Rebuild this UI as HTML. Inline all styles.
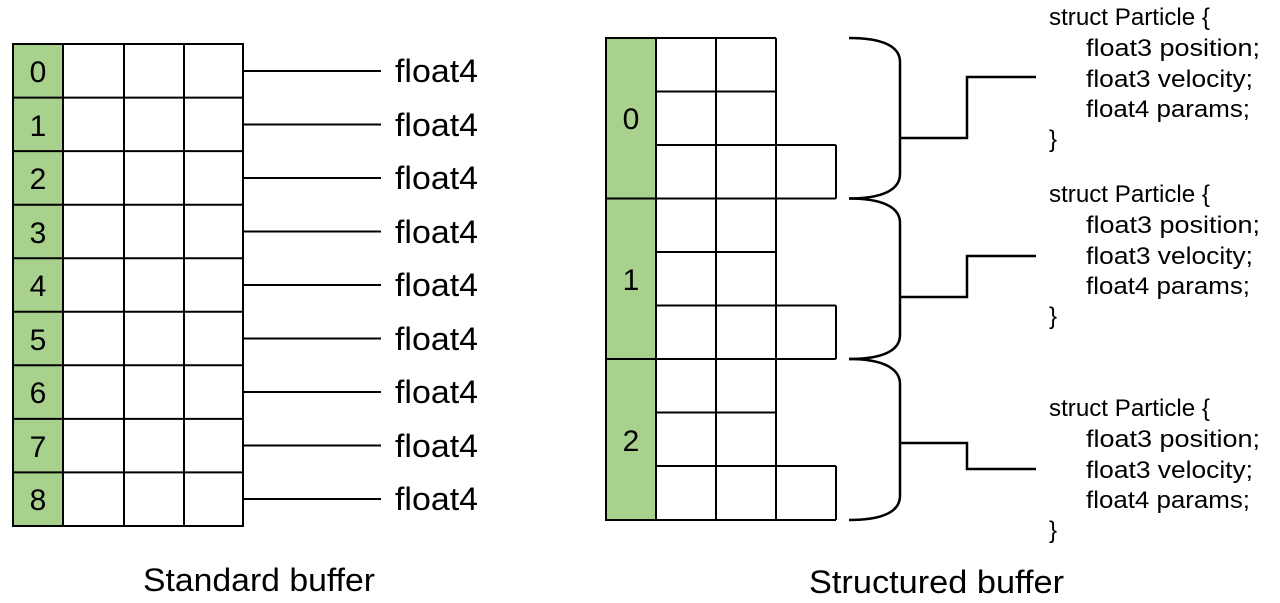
<!DOCTYPE html>
<html><head><meta charset="utf-8"><style>
html,body{margin:0;padding:0;background:#fff;width:1280px;height:603px;overflow:hidden}
svg{display:block}
text{font-family:"Liberation Sans","DejaVu Sans",sans-serif;fill:#000}
</style></head><body>
<svg width="1280" height="603" viewBox="0 0 1280 603" xmlns="http://www.w3.org/2000/svg">
<g stroke="#000" stroke-width="2" fill="none">
<rect x="13" y="44" width="50" height="482" fill="#a9d18e"/>
<rect x="13" y="44" width="230" height="482"/>
<line x1="63" y1="44" x2="63" y2="526"/>
<line x1="124" y1="44" x2="124" y2="526"/>
<line x1="184" y1="44" x2="184" y2="526"/>
<line x1="13" y1="97.6" x2="243" y2="97.6"/>
<line x1="13" y1="151.1" x2="243" y2="151.1"/>
<line x1="13" y1="204.7" x2="243" y2="204.7"/>
<line x1="13" y1="258.2" x2="243" y2="258.2"/>
<line x1="13" y1="311.8" x2="243" y2="311.8"/>
<line x1="13" y1="365.3" x2="243" y2="365.3"/>
<line x1="13" y1="418.9" x2="243" y2="418.9"/>
<line x1="13" y1="472.4" x2="243" y2="472.4"/>
<line x1="243" y1="71" x2="381" y2="71"/>
<line x1="243" y1="124.5" x2="381" y2="124.5"/>
<line x1="243" y1="178" x2="381" y2="178"/>
<line x1="243" y1="231.5" x2="381" y2="231.5"/>
<line x1="243" y1="285" x2="381" y2="285"/>
<line x1="243" y1="338.5" x2="381" y2="338.5"/>
<line x1="243" y1="392" x2="381" y2="392"/>
<line x1="243" y1="445.5" x2="381" y2="445.5"/>
<line x1="243" y1="499" x2="381" y2="499"/>
<rect x="606" y="38" width="50" height="482" fill="#a9d18e"/>
<line x1="606" y1="38" x2="606" y2="520"/>
<line x1="656" y1="38" x2="656" y2="520"/>
<line x1="716" y1="38" x2="716" y2="520"/>
<line x1="776" y1="38" x2="776" y2="520"/>
<line x1="606" y1="38" x2="776" y2="38"/>
<line x1="656" y1="91.5" x2="776" y2="91.5"/>
<line x1="656" y1="145" x2="836" y2="145"/>
<line x1="836" y1="145" x2="836" y2="198.5"/>
<line x1="606" y1="198.5" x2="836" y2="198.5"/>
<line x1="656" y1="252" x2="776" y2="252"/>
<line x1="656" y1="305.5" x2="836" y2="305.5"/>
<line x1="836" y1="305.5" x2="836" y2="359"/>
<line x1="606" y1="359" x2="836" y2="359"/>
<line x1="656" y1="412.5" x2="776" y2="412.5"/>
<line x1="656" y1="466" x2="836" y2="466"/>
<line x1="836" y1="466" x2="836" y2="520"/>
<line x1="606" y1="520" x2="836" y2="520"/>
<path d="M849,38 C882,38 900,46 900,62 L900,174 C900,190 882,198.5 849,198.5" stroke-width="2.5"/>
<path d="M849,198.5 C882,198.5 900,207 900,223 L900,335 C900,351 882,359 849,359" stroke-width="2.5"/>
<path d="M849,359 C882,359 900,368 900,384 L900,496 C900,512 882,520 849,520" stroke-width="2.5"/>
<polyline points="900,138 967,138 967,77 1036,77" stroke-width="2.5"/>
<polyline points="900,297 967,297 967,256 1036,256" stroke-width="2.5"/>
<polyline points="900,443 967,443 967,469 1036,469" stroke-width="2.5"/>
</g>
<g font-size="30" text-anchor="middle">
<text x="38" y="82">0</text><text x="38" y="136">1</text><text x="38" y="189">2</text>
<text x="38" y="243">3</text><text x="38" y="296">4</text><text x="38" y="350">5</text>
<text x="38" y="403">6</text><text x="38" y="457">7</text><text x="38" y="510">8</text>
<text x="631" y="129">0</text><text x="631" y="290">1</text><text x="631" y="451">2</text>
</g>
<g font-size="32">
<text x="395" y="82" textLength="83" lengthAdjust="spacingAndGlyphs">float4</text>
<text x="395" y="136" textLength="83" lengthAdjust="spacingAndGlyphs">float4</text>
<text x="395" y="189" textLength="83" lengthAdjust="spacingAndGlyphs">float4</text>
<text x="395" y="243" textLength="83" lengthAdjust="spacingAndGlyphs">float4</text>
<text x="395" y="296" textLength="83" lengthAdjust="spacingAndGlyphs">float4</text>
<text x="395" y="350" textLength="83" lengthAdjust="spacingAndGlyphs">float4</text>
<text x="395" y="403" textLength="83" lengthAdjust="spacingAndGlyphs">float4</text>
<text x="395" y="457" textLength="83" lengthAdjust="spacingAndGlyphs">float4</text>
<text x="395" y="510" textLength="83" lengthAdjust="spacingAndGlyphs">float4</text>
<text x="143" y="591" textLength="232" lengthAdjust="spacingAndGlyphs">Standard buffer</text>
<text x="809" y="593" textLength="255" lengthAdjust="spacingAndGlyphs">Structured buffer</text>
</g>
<g font-size="24">
<text x="1049" y="25" textLength="161" lengthAdjust="spacingAndGlyphs">struct Particle {</text>
<text x="1086" y="56" textLength="174" lengthAdjust="spacingAndGlyphs">float3 position;</text>
<text x="1086" y="87" textLength="167" lengthAdjust="spacingAndGlyphs">float3 velocity;</text>
<text x="1086" y="117" textLength="164" lengthAdjust="spacingAndGlyphs">float4 params;</text>
<text x="1049" y="147">}</text>
<text x="1049" y="202" textLength="161" lengthAdjust="spacingAndGlyphs">struct Particle {</text>
<text x="1086" y="233" textLength="174" lengthAdjust="spacingAndGlyphs">float3 position;</text>
<text x="1086" y="264" textLength="167" lengthAdjust="spacingAndGlyphs">float3 velocity;</text>
<text x="1086" y="294" textLength="164" lengthAdjust="spacingAndGlyphs">float4 params;</text>
<text x="1049" y="324">}</text>
<text x="1049" y="416" textLength="161" lengthAdjust="spacingAndGlyphs">struct Particle {</text>
<text x="1086" y="447" textLength="174" lengthAdjust="spacingAndGlyphs">float3 position;</text>
<text x="1086" y="478" textLength="167" lengthAdjust="spacingAndGlyphs">float3 velocity;</text>
<text x="1086" y="508" textLength="164" lengthAdjust="spacingAndGlyphs">float4 params;</text>
<text x="1049" y="538">}</text>
</g>
</svg>
</body></html>
